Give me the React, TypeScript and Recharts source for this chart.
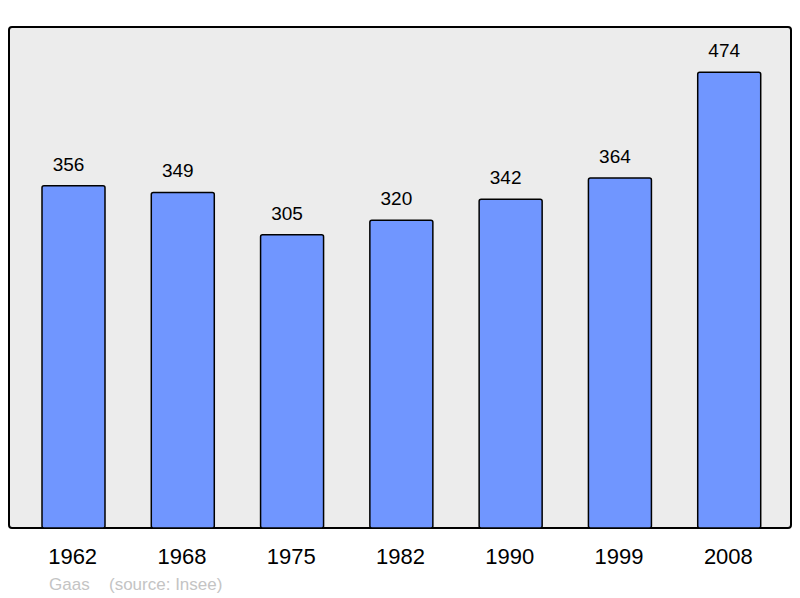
import React from "react";
import { BarChart, Bar, XAxis, YAxis, LabelList } from "recharts";

const years = ["1962", "1968", "1975", "1982", "1990", "1999", "2008"];
const population = [356, 349, 305, 320, 342, 364, 474];
const commune = "Gaas";
const source = "(source: Insee)";

const data = years.map((y, i) => ({ year: y, pop: population[i] }));

const W = 800;
const H = 598;
const M = { top: 27, left: 9, right: 9, bottom: 40 };
const AXIS_H = 30;
const FONT = "'Liberation Sans', Arial, sans-serif";

const ValueLabel = (props: any) => {
  const { x, y, width, value } = props;
  return (
    <text
      x={x + width / 2 - 5}
      y={y - 15}
      textAnchor="middle"
      fontFamily={FONT}
      fontSize={19}
      fill="#000"
    >
      {value}
    </text>
  );
};

const YearTick = (props: any) => {
  const { x, y, payload } = props;
  return (
    <text x={x - 1} y={y + 36} textAnchor="middle" fontFamily={FONT} fontSize={22} fill="#000">
      {payload.value}
    </text>
  );
};

const footStyle: React.CSSProperties = {
  position: "absolute",
  top: 576,
  fontFamily: FONT,
  fontSize: 17,
  lineHeight: "17px",
  color: "#c4c4c4",
  whiteSpace: "nowrap",
};

export default function App() {
  return (
    <div style={{ position: "absolute", left: 0, top: 0, width: W, height: H, background: "#fff" }}>
      <div
        style={{
          position: "absolute",
          left: M.left - 1,
          top: M.top - 1,
          width: W - M.left - M.right + 2,
          height: H - M.top - M.bottom - AXIS_H + 2,
          boxSizing: "border-box",
          border: "2px solid #000",
          borderRadius: 4,
          background: "#ececec",
        }}
      />
      <div style={{ position: "absolute", left: 0, top: 0 }}>
        <BarChart width={W} height={H} data={data} margin={M}>
          <XAxis
            dataKey="year"
            height={AXIS_H}
            axisLine={false}
            tickLine={false}
            tickSize={0}
            tickMargin={0}
            padding={{ left: 10, right: 7 }}
            tick={<YearTick />}
            interval={0}
          />
          <YAxis hide domain={[0, 521]} />
          <Bar
            dataKey="pop"
            fill="#7096ff"
            stroke="#000"
            strokeWidth={1.5}
            barSize={63}
            radius={2}
            isAnimationActive={false}
          >
            <LabelList dataKey="pop" content={<ValueLabel />} />
          </Bar>
        </BarChart>
      </div>
      <div style={{ ...footStyle, left: 49 }}>{commune}</div>
      <div style={{ ...footStyle, left: 109 }}>{source}</div>
    </div>
  );
}
